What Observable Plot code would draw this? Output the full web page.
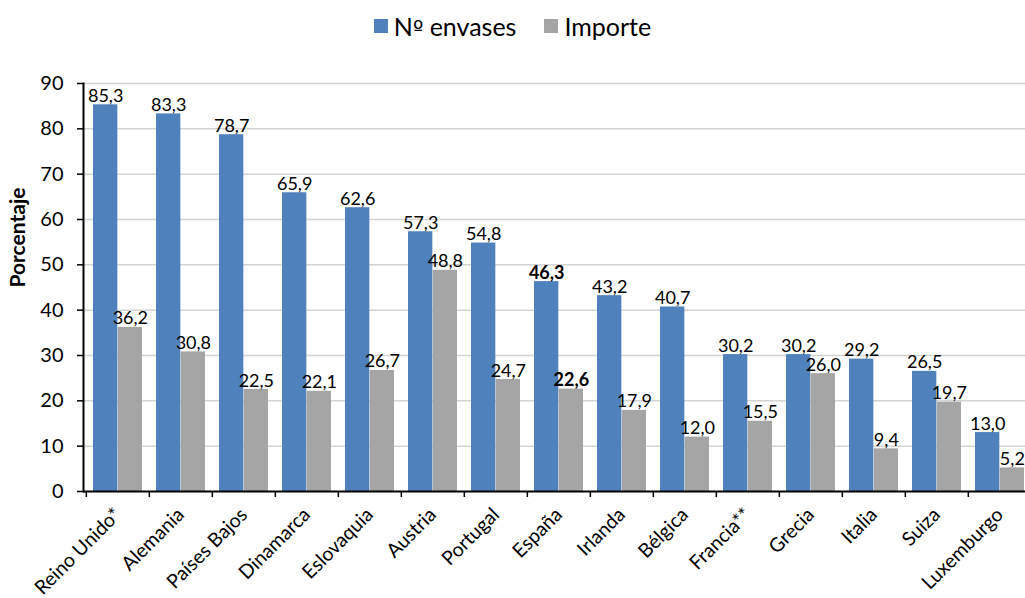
<!DOCTYPE html>
<html>
<head>
<meta charset="utf-8">
<script src="https://cdn.jsdelivr.net/npm/d3@7"></script>
<script src="https://cdn.jsdelivr.net/npm/@observablehq/plot@0.6"></script>
<style>
  html, body { margin: 0; padding: 0; background: white; overflow: hidden; }
  #legend { width: 1025px; height: 52px; display: flex; justify-content: center; align-items: center; font-family: Lato, "Open Sans", sans-serif; font-size: 25px; color: #000; box-sizing: border-box; }
  #legend .item { display: flex; align-items: center; margin: 0 14px; }
  #legend .sw { width: 14px; height: 14px; margin-right: 6px; }
  #legend .ord { font-family: "DejaVu Sans", sans-serif; font-size: 22px; }
</style>
</head>
<body>
<div id="legend"></div>
<div id="chart"></div>
<script>
const countries = ["Reino Unido*", "Alemania", "Países Bajos", "Dinamarca", "Eslovaquia", "Austria", "Portugal", "España", "Irlanda", "Bélgica", "Francia**", "Grecia", "Italia", "Suiza", "Luxemburgo"];
const envases = [85.3, 83.3, 78.7, 65.9, 62.6, 57.3, 54.8, 46.3, 43.2, 40.7, 30.2, 30.2, 29.2, 26.5, 13.0];
const importe = [36.2, 30.8, 22.5, 22.1, 26.7, 48.8, 24.7, 22.6, 17.9, 12.0, 15.5, 26.0, 9.4, 19.7, 5.2];
const seriesNames = ["Nº envases", "Importe"];
const seriesColors = ["#4F81BD", "#A5A5A5"];
const yTicks = [0, 10, 20, 30, 40, 50, 60, 70, 80, 90];
const highlight = "España";
const yLabel = "Porcentaje";

const rows = countries.map((c, i) => ({country: c, envases: envases[i], importe: importe[i]}));
const fmt = v => v.toFixed(1).replace(".", ",");

// legend
const legend = document.getElementById("legend");
seriesNames.forEach((name, i) => {
  const item = document.createElement("div");
  item.className = "item";
  const sw = document.createElement("div");
  sw.className = "sw";
  sw.style.background = seriesColors[i];
  const t = document.createElement("span");
  name.split(/(º)/).forEach(part => {
    if (!part) return;
    const s = document.createElement("span");
    if (part === "º") s.className = "ord";
    s.textContent = part;
    t.appendChild(s);
  });
  item.appendChild(sw);
  item.appendChild(t);
  legend.appendChild(item);
});

const width = 1033, marginLeft = 83, marginRight = 0;
const step = (width - marginLeft - marginRight) / countries.length;
const half = step / 2;
const gap = 7;
const off = (half - gap) / 2;

const isHi = d => d.country === highlight;
const notHi = d => d.country !== highlight;

const chart = Plot.plot({
  width, height: 546,
  marginLeft, marginRight, marginTop: 31, marginBottom: 107,
  style: {fontFamily: "Lato, 'Open Sans', sans-serif", fontSize: "18px", maxWidth: "none", color: "#000", background: "white"},
  x: {domain: countries, padding: 0, label: null},
  y: {domain: [0, 90], label: null},
  marks: [
    Plot.ruleY(yTicks.slice(1), {stroke: "#d4d4d4", strokeWidth: 1.5}),
    Plot.barY(rows, {x: "country", y: "envases", fill: seriesColors[0], insetLeft: gap, insetRight: half}),
    Plot.barY(rows, {x: "country", y: "importe", fill: seriesColors[1], insetLeft: half, insetRight: gap}),
    Plot.text(rows, {filter: notHi, x: "country", y: "envases", text: d => fmt(d.envases), dx: -off, dy: -3, lineAnchor: "bottom", fontSize: 18}),
    Plot.text(rows, {filter: isHi, x: "country", y: "envases", text: d => fmt(d.envases), dx: -off, dy: -3, lineAnchor: "bottom", fontSize: 18, fontWeight: "bold"}),
    Plot.text(rows, {filter: notHi, x: "country", y: "importe", text: d => fmt(d.importe), dx: off, dy: -3, lineAnchor: "bottom", fontSize: 18}),
    Plot.text(rows, {filter: isHi, x: "country", y: "importe", text: d => fmt(d.importe), dx: off, dy: -3, lineAnchor: "bottom", fontSize: 18, fontWeight: "bold"}),
    Plot.axisY({ticks: yTicks, tickSize: 6, tickPadding: 14, fontSize: 20, tickFormat: d => String(d), label: null, strokeWidth: 1.5}),
    Plot.frame({anchor: "left", stroke: "#000", strokeWidth: 2}),
    Plot.ruleY([0], {stroke: "#000", strokeWidth: 2}),
    Plot.axisX({tickSize: 0, tickRotate: -45, tickPadding: 20, fontSize: 19.5, label: null}),
    Plot.axisX({tickSize: 6, tickFormat: () => "", dx: -half, label: null, strokeWidth: 1.5}),
    Plot.text([yLabel], {frameAnchor: "left", rotate: -90, dx: -65, fontWeight: "bold", fontSize: 21, text: d => d})
  ]
});
document.getElementById("chart").appendChild(chart);
</script>
</body>
</html>
